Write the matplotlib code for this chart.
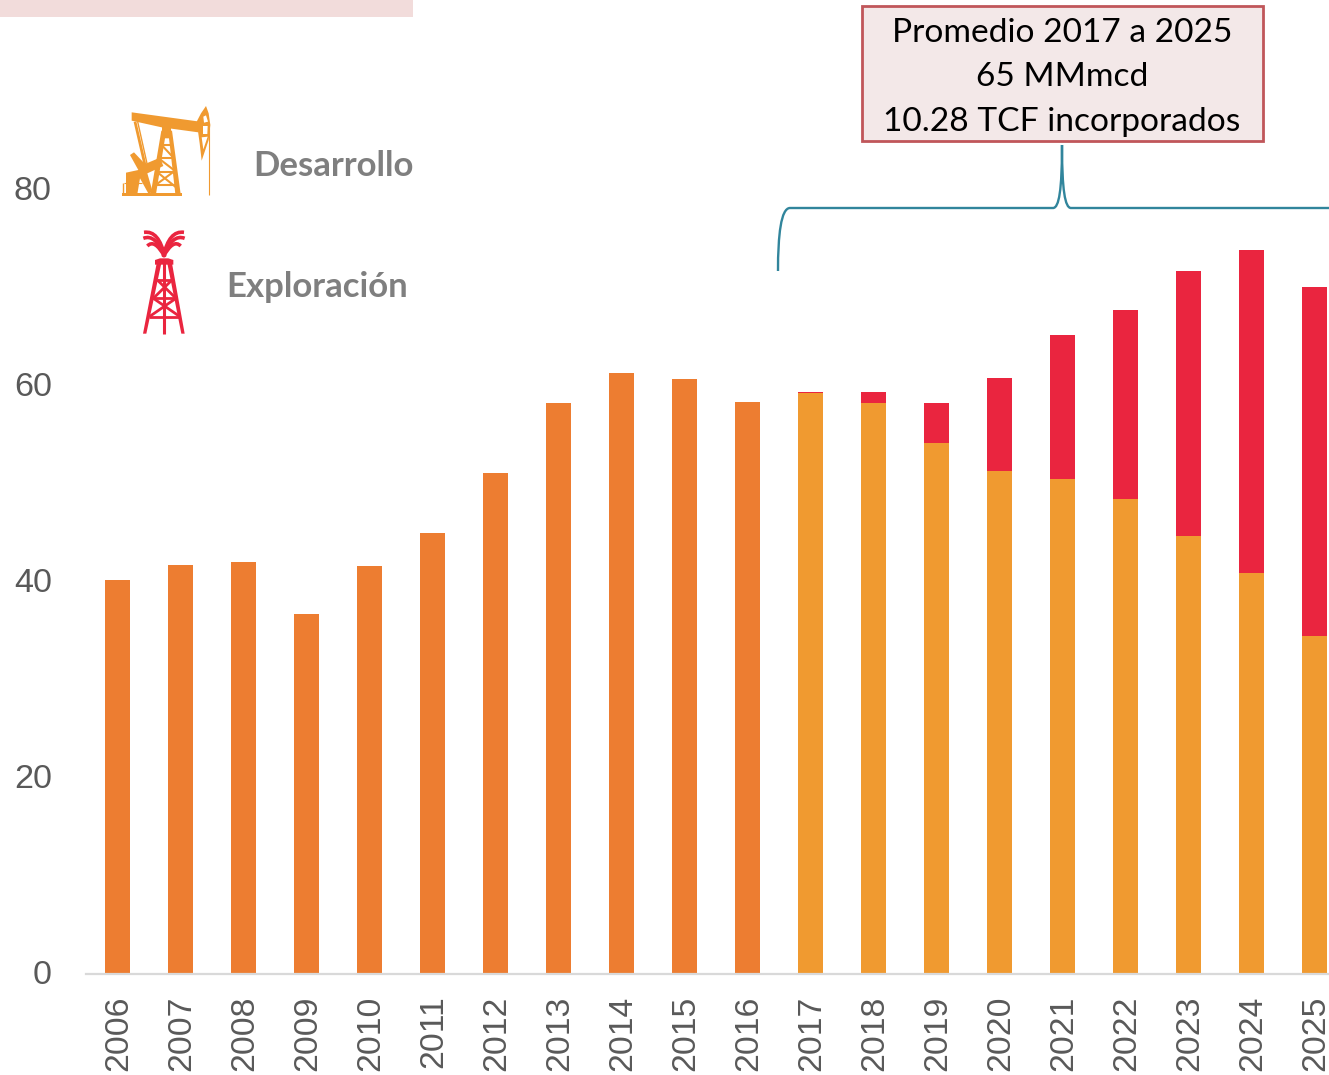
import matplotlib
matplotlib.use("Agg")
import matplotlib.pyplot as plt
from matplotlib.patches import Polygon, Rectangle, PathPatch
from matplotlib.path import Path
from matplotlib.transforms import ScaledTranslation

# === Dados ===
anos_hist = [2006, 2007, 2008, 2009, 2010, 2011, 2012, 2013, 2014, 2015, 2016]
prod_hist = [40.2, 41.7, 42.0, 36.7, 41.6, 45.0, 51.1, 58.2, 61.3, 60.7, 58.3]
anos_proy = [2017, 2018, 2019, 2020, 2021, 2022, 2023, 2024, 2025]
desarrollo = [59.2, 58.2, 54.1, 51.3, 50.5, 48.4, 44.6, 40.9, 34.4]
exploracion = [0.15, 1.1, 4.1, 9.5, 14.7, 19.3, 27.1, 32.9, 35.6]
y_ticks = [0, 20, 40, 60, 80]
caixa_txt = ["Promedio 2017 a 2025", "65 MMmcd", "10.28 TCF incorporados"]

LARANJA = "#ed7d31"
AMARELO = "#f09a30"
VERMELHO = "#ea253f"
CINZA = "#595959"
W, H = 1329, 1075

plt.rcParams["font.family"] = ["Liberation Sans", "DejaVu Sans"]
fig = plt.figure(figsize=(W / 100, H / 100), dpi=100)

# === Grafico ===
ax = fig.add_axes([86 / W, (H - 973.5) / H, (W - 86) / W, 973.5 / H])
ax.bar(anos_hist, prod_hist, width=0.4, color=LARANJA)
ax.bar(anos_proy, desarrollo, width=0.4, color=AMARELO)
ax.bar(anos_proy, exploracion, width=0.4, bottom=desarrollo, color=VERMELHO)
ax.set_xlim(2005.5, 2025.23)
ax.set_ylim(0, 973.5 / 9.8)
ax.set_xticks(anos_hist + anos_proy)
ax.set_xticklabels([str(a) for a in anos_hist + anos_proy], rotation=90)
ax.set_yticks(y_ticks)
ax.tick_params(axis="x", length=0, pad=16, labelsize=24.3, labelcolor=CINZA)
ax.tick_params(axis="y", length=0, pad=24.6, labelsize=24.6, labelcolor=CINZA)
# pequenos ajustes de posicao dos rotulos
for t in ax.get_xticklabels():
    t.set_transform(t.get_transform() + ScaledTranslation(1.2 / 100, 0, fig.dpi_scale_trans))
for t in ax.get_yticklabels():
    t.set_transform(t.get_transform() + ScaledTranslation(0, 1 / 100, fig.dpi_scale_trans))
for s in ["top", "left", "right"]:
    ax.spines[s].set_visible(False)
ax.spines["bottom"].set_color("#d9d9d9")
ax.spines["bottom"].set_linewidth(1.6)
ax.patch.set_alpha(0)

# === Camada em pixels para caixa, chave e icones ===
ov = fig.add_axes([0, 0, 1, 1])
ov.set_xlim(0, W)
ov.set_ylim(H, 0)
ov.axis("off")
ov.patch.set_alpha(0)

ov.add_patch(Rectangle((0, 0), 413, 17, fc="#f2dcdb", ec="none"))

ov.add_patch(Rectangle((862, 6), 400.5, 134.5, fc="#f3e8e8", ec="#c0565a", lw=2))
for yy, t in zip([33, 77, 122], caixa_txt):
    ov.text(1062, yy, t, ha="center", va="center", fontsize=24.1, color="black",
            family="Lato")

chave = Path(
    [(778, 271), (778, 235), (781, 208), (790, 208), (1053, 208),
     (1059, 208), (1062, 190), (1062, 145),
     (1062, 190), (1065, 208), (1071, 208), (1329, 208)],
    [Path.MOVETO, Path.CURVE4, Path.CURVE4, Path.CURVE4, Path.LINETO,
     Path.CURVE4, Path.CURVE4, Path.CURVE4,
     Path.CURVE4, Path.CURVE4, Path.CURVE4, Path.LINETO],
)
ov.add_patch(PathPatch(chave, fc="none", ec="#31859c", lw=1.7))

ov.text(333, 166, "Desarrollo", ha="center", va="center", fontsize=25,
        fontweight="bold", color="#7f7f7f", family="Lato")
ov.text(317.5, 287, "Exploración", ha="center", va="center", fontsize=25,
        fontweight="bold", color="#7f7f7f", family="Lato")


# coordenadas do recorte ampliado (3x) para pixels
def px(pts):
    return [(100 + x / 3, 90 + y / 3) for x, y in pts]


def poli(pts, cor):
    ov.add_patch(Polygon(px(pts), closed=True, fc=cor, ec="none"))


def linha(p0, p1, cor, lw):
    (x0, y0), (x1, y1) = px([p0, p1])
    ov.plot([x0, x1], [y0, y1], color=cor, lw=lw, solid_capstyle="butt")


# === Icone: bomba de petroleo ===
poli([(95, 67), (300, 95), (295, 127), (185, 112), (95, 92)], AMARELO)
poli([(318, 48), (326, 70), (331, 105), (326, 150), (305, 212), (299, 160), (290, 95), (303, 70)], AMARELO)
poli([(310, 80), (318, 76), (324, 95), (312, 98)], "white")
poli([(309, 108), (323, 108), (322, 132), (309, 132)], "white")
poli([(305, 142), (323, 140), (310, 178)], "white")
linha((328, 100), (328, 316), AMARELO, 0.8)
poli([(65, 308), (245, 308), (245, 317), (65, 317)], AMARELO)
poli([(186, 112), (214, 112), (214, 128), (186, 128)], AMARELO)
poli([(184, 122), (216, 122), (242, 312), (226, 312), (207, 145), (195, 145), (168, 312), (152, 312)], AMARELO)
for a, b in [((180, 165), (220, 165)), ((174, 205), (226, 205)), ((168, 245), (230, 245)),
             ((160, 285), (236, 285)), ((160, 290), (228, 240)), ((170, 245), (232, 295)),
             ((185, 165), (222, 205)), ((176, 205), (228, 245))]:
    linha(a, b, AMARELO, 1.5)
poli([(90, 195), (102, 187), (135, 222), (180, 203), (190, 228), (142, 250), (158, 305),
      (146, 312), (120, 265), (112, 312), (78, 312), (78, 248), (115, 240)], AMARELO)
linha((70, 278), (70, 312), AMARELO, 1.0)
linha((72, 278), (125, 278), AMARELO, 0.8)
linha((105, 95), (135, 225), AMARELO, 2.0)
linha((113, 95), (142, 225), AMARELO, 1.0)

# === Icone: torre de exploracao ===
poli([(180, 505), (205, 505), (220, 510), (220, 524), (165, 524), (165, 510)], VERMELHO)
poli([(170, 520), (184, 520), (139, 731), (129, 731)], VERMELHO)
poli([(202, 520), (216, 520), (254, 731), (244, 731)], VERMELHO)
linha((192, 520), (192, 731), VERMELHO, 2.2)
for a, b in [((170, 570), (218, 570)), ((160, 625), (228, 625)), ((148, 680), (240, 680)),
             ((172, 570), (228, 625)), ((216, 570), (160, 625)),
             ((160, 625), (240, 680)), ((228, 625), (148, 680))]:
    linha(a, b, VERMELHO, 2.0)
for lado in (-1, 1):
    for xf, yf, xc, yc in [(60, 427, 15, 420), (62, 445, 25, 430), (50, 468, 28, 445)]:
        jato = Path(px([(192 - 2 * lado, 500), (192 + lado * xc, yc), (192 + lado * xf, yf)]),
                    [Path.MOVETO, Path.CURVE3, Path.CURVE3])
        ov.add_patch(PathPatch(jato, fc="none", ec=VERMELHO, lw=2.6))

fig.savefig("out.png", dpi=100)
